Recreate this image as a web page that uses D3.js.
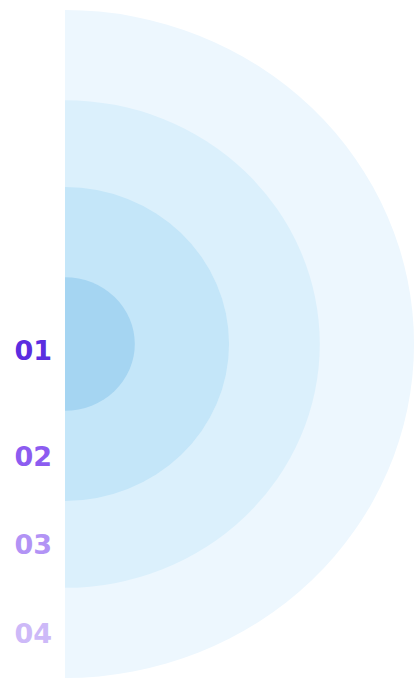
<!DOCTYPE html>
<html>
<head>
<meta charset="utf-8">
<script src="https://cdn.jsdelivr.net/npm/d3@7"></script>
<style>
  body { margin: 0; background: #fff; }
</style>
</head>
<body>
<div id="chart"></div>
<script>
var labels = ["01", "02", "03", "04"];
var values = [20, 47, 73, 100];
var ringColors = ["#a5d5f2", "#c4e6f9", "#dbf0fc", "#edf7fe"];
var labelColors = ["#5b2de0", "#8c5cf0", "#b293f5", "#cdb9f8"];

var width = 417, height = 679;
var cx = 65, cy = 344;

var svg = d3.select("#chart")
	.append("svg")
	.attr("width", width)
	.attr("height", height);

var r = d3.scaleLinear().domain([0, 100]).range([0, 334]);

var arc = d3.arc()
	.innerRadius(0)
	.outerRadius(function(d) { return r(d); })
	.startAngle(0)
	.endAngle(Math.PI);

// rings, biggest first; slightly wider than tall like the reference
var g = svg.append("g")
	.attr("transform", "translate(" + cx + "," + cy + ") scale(1.045,1)");

var order = d3.range(values.length).reverse();

g.selectAll("path")
	.data(order)
	.enter()
	.append("path")
	.attr("d", function(i) { return arc(values[i]); })
	.attr("fill", function(i) { return ringColors[i]; });

// label sits in the middle of each ring's lower band
function labelY(i) {
	var outer = r(values[i]);
	var inner = i == 0 ? -r(values[0]) * 0.8 : r(values[i - 1]);
	return cy + (outer + inner) / 2;
}

svg.selectAll("text")
	.data(labels)
	.enter()
	.append("text")
	.attr("x", 52)
	.attr("y", function(d, i) { return labelY(i); })
	.attr("dy", "0.36em")
	.attr("text-anchor", "end")
	.attr("font-family", "'DejaVu Sans', sans-serif")
	.attr("font-weight", "bold")
	.attr("font-size", 27)
	.attr("fill", function(d, i) { return labelColors[i]; })
	.text(function(d) { return d; });
</script>
</body>
</html>
